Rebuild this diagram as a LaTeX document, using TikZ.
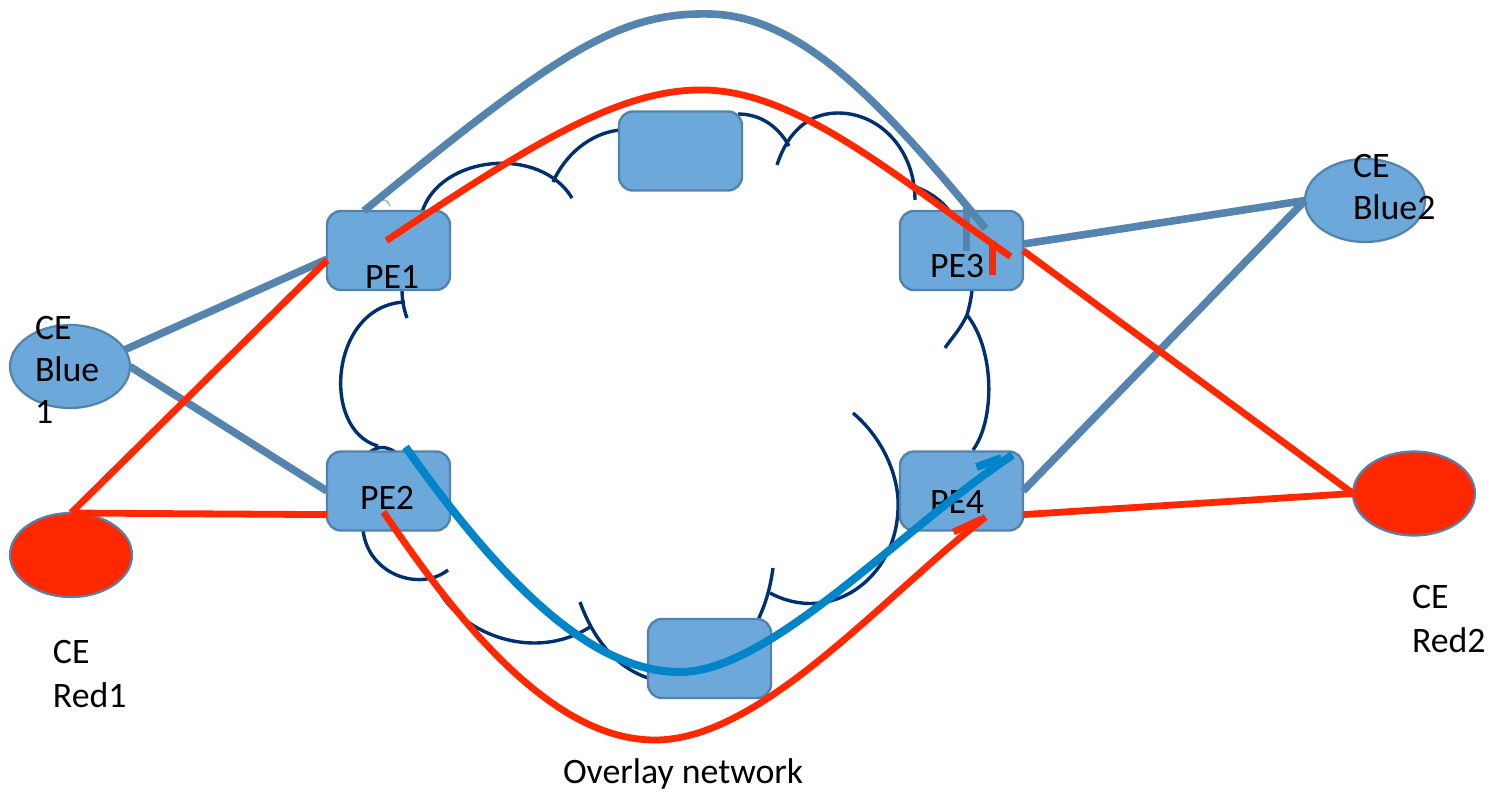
\documentclass[tikz,border=0pt]{standalone}
\usepackage{fontspec}
\setmainfont{Carlito}
\usetikzlibrary{calc,shapes.geometric}
\definecolor{boxfill}{HTML}{6CA9DA}
\definecolor{boxline}{HTML}{5282AE}
\definecolor{steel}{HTML}{5585AE}
\definecolor{redc}{HTML}{FF2800}
\definecolor{bluec}{HTML}{0084CA}
\definecolor{navy}{HTML}{00306F}
\definecolor{faint}{HTML}{8CC0E8}
\begin{document}
\begin{tikzpicture}[x=0.5pt,y=-0.5pt,
  pebox/.style={draw=boxline,fill=boxfill,line width=1.2pt,rounded corners=7pt,minimum width=61.5pt,minimum height=39.5pt,inner sep=0pt,outer sep=0pt},
  ceblue/.style={ellipse,draw=boxline,fill=boxfill,line width=1.1pt,minimum width=60pt,minimum height=41.5pt,inner sep=0pt,outer sep=0pt},
  cered/.style={ellipse,draw=boxline,fill=redc,line width=1.1pt,minimum width=61pt,minimum height=42pt,inner sep=0pt,outer sep=0pt},
  lbl/.style={anchor=base west,inner sep=0pt,outer sep=0pt,font=\fontsize{17.9}{21}\selectfont},
  cloudarc/.style={draw=navy,line width=1.7pt},
  sline/.style={draw=steel,line width=3.8pt},
  rline/.style={draw=redc,line width=3.4pt},
  bline/.style={draw=bluec,line width=4pt},
]
\useasboundingbox (0,0) rectangle (1495,793);

% cloud outline fragments
\draw[cloudarc] (422,212) .. controls (440,155) and (540,145) .. (572,198);
\draw[cloudarc] (553,182) .. controls (565,155) and (590,133) .. (620,130);
\draw[cloudarc] (738,114) .. controls (760,114) and (778,126) .. (789,146);
\draw[cloudarc] (777,165) .. controls (790,125) and (815,113) .. (838,113) .. controls (880,113) and (915,150) .. (915,200);
\draw[cloudarc] (913,186) .. controls (925,190) and (940,198) .. (950,212);
\draw[cloudarc] (402,290) .. controls (402,300) and (404,310) .. (407,318);
\draw[cloudarc] (405,302) .. controls (330,305) and (320,430) .. (378,446);
\draw[cloudarc] (370,452) .. controls (378,446) and (386,446) .. (395,452);
\draw[cloudarc] (363,530) .. controls (368,575) and (420,592) .. (448,570);
\draw[cloudarc] (433,577) .. controls (450,630) and (530,665) .. (590,627);
\draw[cloudarc] (580,602) .. controls (590,630) and (610,665) .. (648,678);
\draw[cloudarc] (758,620) .. controls (765,605) and (770,590) .. (773,568);
\draw[cloudarc] (853,413) .. controls (885,440) and (900,480) .. (898,510) .. controls (895,580) and (830,625) .. (770,593);
\draw[cloudarc] (972,290) .. controls (971,300) and (969,308) .. (967,315);
\draw[cloudarc] (967,315) .. controls (960,330) and (950,340) .. (945,348);
\draw[cloudarc] (967,315) .. controls (995,350) and (995,420) .. (973,450);
\draw[draw=faint,line width=0.8pt] (383,200) .. controls (387,200) and (389,203) .. (390,206);

% boxes
\node[pebox] (pe1) at (388.5,250.5) {};
\node[pebox] (pe2) at (388.5,491) {};
\node[pebox] (pe3) at (961.5,250.5) {};
\node[pebox] (pe4) at (961.5,491) {};
\node[pebox] (top) at (680.5,151) {};
\node[pebox] (bot) at (709.5,658.5) {};

% CE nodes
\node[ceblue] (blue1) at (70,366.5) {};
\node[cered] (red1) at (71,555) {};
\node[ceblue] (blue2) at (1365,200.5) {};
\node[cered] (red2) at (1414,493.5) {};

% labels
\node[lbl] (pe1l) at (365,288) {PE1};
\node[lbl] (pe2l) at (360,509) {PE2};
\node[lbl] (pe3l) at (930,277) {PE3};
\node[lbl] (pe4l) at (930,513) {PE4};
\node[lbl] (b1a) at (35,339) {CE};
\node[lbl] (b1b) at (35,381) {Blue};
\node[lbl] (b1c) at (35,423) {1};
\node[lbl] (r1a) at (53,663) {CE};
\node[lbl] (r1b) at (53,707) {Red1};
\node[lbl] (b2a) at (1353,177) {CE};
\node[lbl] (b2b) at (1353,219) {Blue2};
\node[lbl] (r2a) at (1412,608) {CE};
\node[lbl] (r2b) at (1412,652) {Red2};
\node[lbl] (ovl) at (563,783) {Overlay network};

% access links
\draw[sline] (blue1.17) -- (pe1.188);
\draw[sline] (blue1.east) -- (pe2.west);
\draw[rline] (red1.north) -- (pe1.189);
\draw[rline] (red1.north) -- (pe2.201);
\draw[sline] (pe3.6) -- (blue2.west);
\draw[sline] (pe4.east) -- (blue2.west);
\draw[rline] (pe3.east) -- (red2.west);
\draw[rline] (pe4.339) -- (red2.west);

% overlay paths
\draw[sline] (pe1.122) .. controls (560,50) and (620,12) .. (710,14) .. controls (800,16) and (880,100) .. ($(pe3.center)+(24,-22)$);
\draw[sline] ($(pe3.center)+(5,-43)$) -- ($(pe3.center)+(5,0)$);
\draw[rline] ($(pe1.center)+(-2,-10)$) .. controls (530,145) and (620,88) .. (705,90) .. controls (800,92) and (900,180) .. ($(pe3.center)+(49,6)$);
\draw[rline] ($(pe3.center)+(31,-10)$) -- ($(pe3.center)+(31,24)$);
\draw[bline] ($(pe2.center)+(17,-44)$) .. controls (500,580) and (590,672) .. (680,672) .. controls (770,672) and (900,530) .. ($(pe4.center)+(51,-36)$);
\draw[bline] ($(pe4.center)+(15,-24)$) -- ($(pe4.center)+(40,-33)$);
\draw[rline] ($(pe2.center)+(-5,21)$) .. controls (470,640) and (560,740) .. (655,740) .. controls (760,740) and (880,600) .. ($(pe4.center)+(24,26)$);
\draw[rline] ($(pe4.center)+(-8,41)$) -- ($(pe4.center)+(20,28)$);
\end{tikzpicture}
\end{document}
